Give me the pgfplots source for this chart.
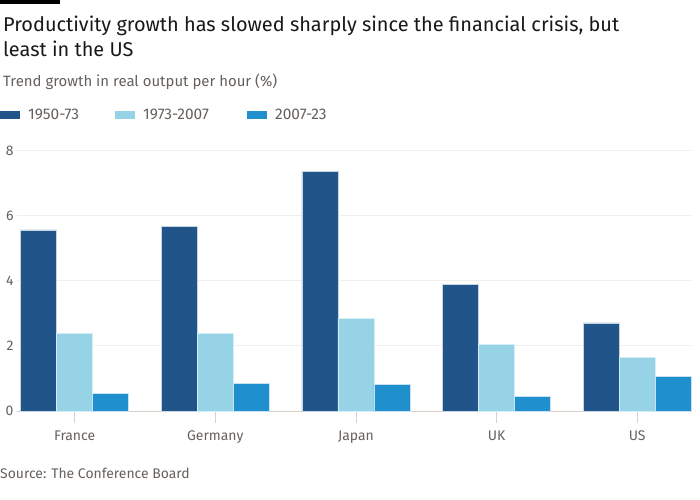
\documentclass[border=0pt]{standalone}
\usepackage{fontspec}
\setmainfont{Fira Sans}
\usepackage{pgfplots}
\pgfplotsset{compat=1.18}
\definecolor{dkblue}{HTML}{215589}
\definecolor{ltblue}{HTML}{96D3E6}
\definecolor{mdblue}{HTML}{1F8FCE}
\definecolor{txtgrey}{HTML}{66605C}
\definecolor{titlec}{HTML}{1A1817}
\definecolor{gridc}{HTML}{F2EEEA}
\definecolor{tickc}{HTML}{D9D0C8}
\begin{document}
\begin{tikzpicture}
\useasboundingbox (0bp,0bp) rectangle (700bp,500bp);
\fill[black] (0bp,500bp) rectangle (60bp,496bp);
\node[anchor=base west, inner sep=0, text=titlec, font=\fontsize{20}{25}\selectfont] at (3bp,468bp) {Productivity growth has slowed sharply since the financial crisis, but};
\node[anchor=base west, inner sep=0, text=titlec, font=\fontsize{20}{25}\selectfont] at (3bp,443bp) {least in the US};
\node[anchor=base west, inner sep=0, text=txtgrey, font=\fontsize{15}{18}\selectfont] at (3bp,413bp) {Trend growth in real output per hour (\%)};
% legend
\fill[dkblue] (0bp,389bp) rectangle (20bp,381bp);
\node[anchor=base west, inner sep=0, text=txtgrey, font=\fontsize{15.5}{18}\selectfont] at (28bp,380bp) {1950-73};
\fill[ltblue] (115bp,389bp) rectangle (135bp,381bp);
\node[anchor=base west, inner sep=0, text=txtgrey, font=\fontsize{15.5}{18}\selectfont] at (143bp,380bp) {1973-2007};
\fill[mdblue] (247bp,389bp) rectangle (267bp,381bp);
\node[anchor=base west, inner sep=0, text=txtgrey, font=\fontsize{15.5}{18}\selectfont] at (275bp,380bp) {2007-23};
\node[anchor=base west, inner sep=0, text=txtgrey, font=\fontsize{14}{17}\selectfont] at (0bp,22bp) {Source: The Conference Board};
\begin{axis}[
  at={(17bp,89bp)}, anchor=south west,
  scale only axis, width=675bp, height=260bp,
  ymin=0, ymax=8, xmin=-0.41, xmax=4.39,
  ytick={0,2,4,6,8},
  xtick={0,1,2,3,4},
  xticklabels={France,Germany,Japan,UK,US},
  ymajorgrids, grid style={gridc, line width=1bp},
  axis line style={draw=none},
  tick pos=left, tick align=outside,
  major tick length=12bp,
  ytick style={draw=none},
  xtick style={draw=tickc, line width=0.8bp},
  ticklabel style={text=txtgrey, font=\fontsize{14}{17}\selectfont},
  /pgf/number format/assume math mode=true,
  xticklabel style={yshift=-4bp},
  yticklabel style={xshift=12bp},
  clip=false,
]
\draw[tickc, line width=1bp] (axis cs:-0.41,0) -- (axis cs:4.39,0);
\addplot[ybar, bar width=36bp, bar shift=-36bp, fill=dkblue, draw=white!75!dkblue, line width=0.5bp]
  coordinates {(0,5.57) (1,5.69) (2,7.38) (3,3.90) (4,2.71)};
\addplot[ybar, bar width=36bp, bar shift=0bp, fill=ltblue, draw=white!60!ltblue, line width=0.5bp]
  coordinates {(0,2.39) (1,2.39) (2,2.86) (3,2.06) (4,1.64)};
\addplot[ybar, bar width=36bp, bar shift=36bp, fill=mdblue, draw=white!75!mdblue, line width=0.5bp]
  coordinates {(0,0.54) (1,0.85) (2,0.83) (3,0.44) (4,1.06)};
\end{axis}
\end{tikzpicture}
\end{document}
